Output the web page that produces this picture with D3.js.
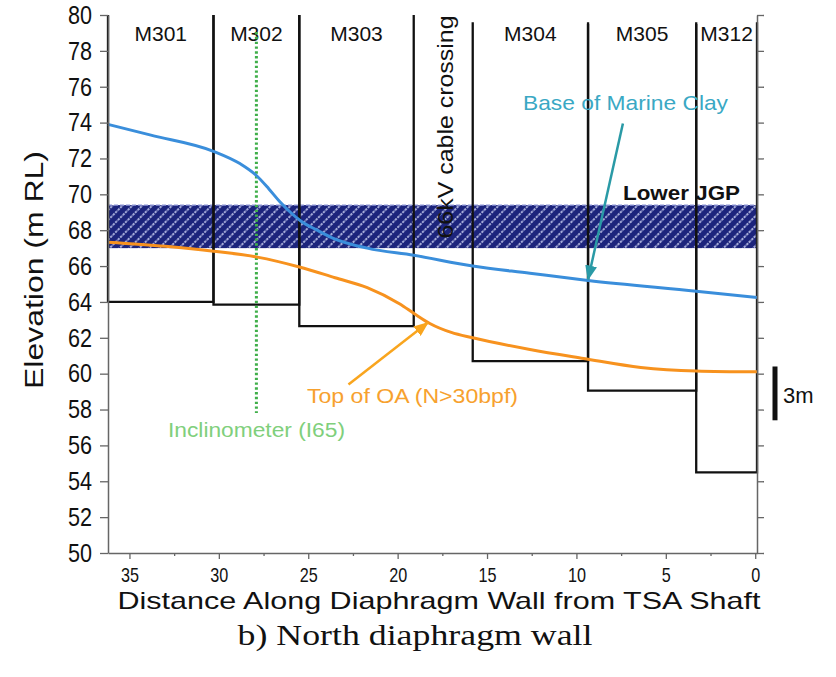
<!DOCTYPE html>
<html>
<head>
<meta charset="utf-8">
<script src="https://cdn.jsdelivr.net/npm/d3@7"></script>
<style>
  body { margin: 0; background: #fff; }
  text { font-family: "Liberation Sans", Arial, sans-serif; }
  text.serif { font-family: "Liberation Serif", "Times New Roman", serif; }
</style>
</head>
<body>
<script>
// axis ticks
var yTicks = [50, 52, 54, 56, 58, 60, 62, 64, 66, 68, 70, 72, 74, 76, 78, 80];
var xTicks = [35, 30, 25, 20, 15, 10, 5, 0];
var xMinor = [32.5, 27.5, 22.5, 17.5, 12.5, 7.5, 2.5];

// diaphragm wall panels (distance from shaft, m / elevation, m RL)
var panelNames = ["M301", "M302", "M303", "M304", "M305", "M312"];
var panelStart = [36.2, 30.3, 25.5, 15.8, 9.35, 3.3];
var panelEnd   = [30.3, 25.5, 19.1, 9.35, 3.3, -0.1];
var panelTop   = [80, 80, 80, 79.6, 79.5, 79.6];
var panelToe   = [64.0, 63.85, 62.65, 60.7, 59.05, 54.5];

// base of marine clay
var clayDist = [36.2, 33.8, 30.3, 28.8, 27.9, 27.2, 26.6, 26.0, 25.4, 24.5, 23.6, 21.7, 19.1, 15.8, 12.6, 9.35, 3.3, -0.1];
var clayElev = [73.9, 73.3, 72.4, 71.7, 71.05, 70.3, 69.6, 69.0, 68.5, 68.0, 67.55, 67.0, 66.6, 66.0, 65.6, 65.2, 64.6, 64.25];

// top of OA
var oaDist = [36.2, 33.0, 30.3, 27.85, 25.5, 23.5, 21.7, 19.9, 19.0, 18.2, 17.0, 15.8, 12.6, 9.6, 6.4, 3.3, -0.1];
var oaElev = [67.33, 67.1, 66.83, 66.5, 65.95, 65.35, 64.8, 63.9, 63.3, 62.8, 62.3, 62.0, 61.35, 60.85, 60.35, 60.15, 60.1];

// lower JGP layer and inclinometer
var jgpBottom = 67.0, jgpTop = 69.4;
var inclDist = 27.9, inclTop = 79.05, inclBottom = 57.8;

var width = 836, height = 677;

var svg = d3.select("body").append("svg")
    .attr("width", width)
    .attr("height", height);

var x = d3.scaleLinear().domain([36.2, -0.1]).range([108, 757]);
var y = d3.scaleLinear().domain([50, 80]).range([553, 15]);

var defs = svg.append("defs");
var pat = defs.append("pattern")
    .attr("id", "hatch")
    .attr("patternUnits", "userSpaceOnUse")
    .attr("width", 7).attr("height", 7)
    .attr("patternTransform", "rotate(45)");
pat.append("rect").attr("width", 7).attr("height", 7).attr("fill", "#1c247c");
pat.append("line")
    .attr("x1", 1).attr("y1", 0).attr("x2", 1).attr("y2", 7)
    .attr("stroke", "#dfe4ff").attr("stroke-width", 1.4)
    .attr("stroke-dasharray", "2.5,1");

function marker(id, color) {
  defs.append("marker")
      .attr("id", id)
      .attr("markerUnits", "userSpaceOnUse")
      .attr("markerWidth", 15).attr("markerHeight", 12)
      .attr("refX", 14).attr("refY", 6)
      .attr("orient", "auto")
    .append("path")
      .attr("d", "M0,0 L15,6 L0,12 Z")
      .attr("fill", color);
}
marker("tealHead", "#2a9aa6");
marker("orangeHead", "#f9a51e");

// JGP band
svg.append("rect")
    .attr("x", x(36.2)).attr("width", x(-0.1) - x(36.2))
    .attr("y", y(jgpTop)).attr("height", y(jgpBottom) - y(jgpTop))
    .attr("fill", "url(#hatch)");
svg.append("line")
    .attr("x1", x(36.2)).attr("x2", x(-0.1))
    .attr("y1", y(jgpTop)).attr("y2", y(jgpTop))
    .attr("stroke", "#8d95d6").attr("stroke-width", 1.2)
    .attr("stroke-dasharray", "4,2");

// panels
var panels = panelNames.map(function(n, i){
  return {name: n, start: panelStart[i], end: panelEnd[i], top: panelTop[i], toe: panelToe[i]};
});

svg.selectAll(".panel")
  .data(panels)
  .enter().append("path")
    .attr("class", "panel")
    .attr("fill", "none")
    .attr("stroke", "#111")
    .attr("stroke-width", 2.3)
    .attr("d", function(d){
      return "M" + x(d.start) + "," + y(d.top) +
             "L" + x(d.start) + "," + y(d.toe) +
             "L" + x(d.end) + "," + y(d.toe) +
             "L" + x(d.end) + "," + y(d.top);
    });

svg.selectAll(".pname")
  .data(panels)
  .enter().append("text")
    .attr("class", "pname")
    .attr("x", function(d){ return x((d.start + d.end) / 2); })
    .attr("y", 41)
    .attr("text-anchor", "middle")
    .attr("font-size", 21)
    .attr("fill", "#111")
    .text(function(d){ return d.name; });

// inclinometer
svg.append("line")
    .attr("x1", x(inclDist)).attr("x2", x(inclDist))
    .attr("y1", y(inclTop)).attr("y2", y(inclBottom))
    .attr("stroke", "#3fae49").attr("stroke-width", 3)
    .attr("stroke-dasharray", "2.4,2.4");

// soil lines
var line = d3.line()
    .x(function(d){ return x(d[0]); })
    .y(function(d){ return y(d[1]); })
    .curve(d3.curveMonotoneX);

svg.append("path")
    .datum(clayDist.map(function(d, i){ return [d, clayElev[i]]; }))
    .attr("fill", "none")
    .attr("stroke", "#3a8edb")
    .attr("stroke-width", 3)
    .attr("d", line);

svg.append("path")
    .datum(oaDist.map(function(d, i){ return [d, oaElev[i]]; }))
    .attr("fill", "none")
    .attr("stroke", "#f7921e")
    .attr("stroke-width", 3)
    .attr("d", line);

// axes
var gy = svg.append("g")
    .attr("transform", "translate(" + x(36.2) + ",0)")
    .call(d3.axisLeft(y).tickValues(yTicks).tickSize(8).tickSizeOuter(0).tickPadding(8));
gy.selectAll("text")
    .attr("font-size", 26)
    .attr("font-family", "Liberation Sans, Arial, sans-serif")
    .attr("fill", "#111")
    .attr("textLength", 24)
    .attr("lengthAdjust", "spacingAndGlyphs");

var gr = svg.append("g")
    .attr("transform", "translate(" + x(-0.1) + ",0)")
    .call(d3.axisRight(y).tickValues(yTicks).tickSize(7).tickSizeOuter(0).tickFormat(""));

var gx = svg.append("g")
    .attr("transform", "translate(0," + y(50) + ")")
    .call(d3.axisBottom(x).tickValues(xTicks).tickSize(6).tickSizeOuter(0).tickFormat(d3.format("d")));
gx.selectAll("text")
    .attr("y", 29).attr("dy", 0)
    .attr("font-size", 21)
    .attr("font-family", "Liberation Sans, Arial, sans-serif")
    .attr("fill", "#111")
    .attr("textLength", function(d){ return String(d).length * 9; })
    .attr("lengthAdjust", "spacingAndGlyphs");

var gm = svg.append("g")
    .attr("transform", "translate(0," + y(50) + ")")
    .call(d3.axisBottom(x).tickValues(xMinor).tickSize(3).tickFormat(""));
gm.select(".domain").remove();

[gy, gr, gx, gm].forEach(function(g){
  g.selectAll("line").attr("stroke", "#666").attr("stroke-width", 1.3);
  g.selectAll(".domain").attr("stroke", "#666").attr("stroke-width", 1.5);
});

// axis titles
svg.append("text")
    .attr("transform", "translate(43,270) rotate(-90)")
    .attr("text-anchor", "middle")
    .attr("font-size", 26)
    .attr("fill", "#111")
    .attr("textLength", 238)
    .attr("lengthAdjust", "spacingAndGlyphs")
    .text("Elevation (m RL)");

svg.append("text")
    .attr("x", 439).attr("y", 609)
    .attr("text-anchor", "middle")
    .attr("font-size", 24)
    .attr("fill", "#111")
    .attr("textLength", 643)
    .attr("lengthAdjust", "spacingAndGlyphs")
    .text("Distance Along Diaphragm Wall from TSA Shaft");

svg.append("text")
    .attr("class", "serif")
    .attr("x", 415).attr("y", 645)
    .attr("text-anchor", "middle")
    .attr("font-size", 29)
    .attr("fill", "#111")
    .attr("textLength", 355)
    .attr("lengthAdjust", "spacingAndGlyphs")
    .text("b) North diaphragm wall");

// annotations
svg.append("text")
    .attr("transform", "translate(453,127) rotate(-90)")
    .attr("text-anchor", "middle")
    .attr("font-size", 22)
    .attr("fill", "#111")
    .attr("textLength", 223)
    .attr("lengthAdjust", "spacingAndGlyphs")
    .text("66kV cable crossing");

svg.append("text")
    .attr("x", 523).attr("y", 110)
    .attr("font-size", 21)
    .attr("fill", "#3aa8c4")
    .attr("textLength", 205)
    .attr("lengthAdjust", "spacingAndGlyphs")
    .text("Base of Marine Clay");

svg.append("line")
    .attr("x1", x(7.4)).attr("y1", y(73.95))
    .attr("x2", x(9.35)).attr("y2", y(65.25))
    .attr("stroke", "#2a9aa6").attr("stroke-width", 2.5)
    .attr("marker-end", "url(#tealHead)");

svg.append("text")
    .attr("x", 623).attr("y", 200)
    .attr("font-size", 20)
    .attr("font-weight", "bold")
    .attr("fill", "#111")
    .attr("textLength", 117)
    .attr("lengthAdjust", "spacingAndGlyphs")
    .text("Lower JGP");

svg.append("text")
    .attr("x", 307).attr("y", 403)
    .attr("font-size", 21)
    .attr("fill", "#f7a12e")
    .attr("textLength", 211)
    .attr("lengthAdjust", "spacingAndGlyphs")
    .text("Top of OA (N>30bpf)");

svg.append("line")
    .attr("x1", x(22.75)).attr("y1", y(59.4))
    .attr("x2", x(18.3)).attr("y2", y(62.85))
    .attr("stroke", "#f9a51e").attr("stroke-width", 2.5)
    .attr("marker-end", "url(#orangeHead)");

svg.append("text")
    .attr("x", 168).attr("y", 437)
    .attr("font-size", 20)
    .attr("fill", "#80cf7c")
    .attr("textLength", 177)
    .attr("lengthAdjust", "spacingAndGlyphs")
    .text("Inclinometer (I65)");

// 3 m scale bar
svg.append("line")
    .attr("x1", 775).attr("x2", 775)
    .attr("y1", y(60.4)).attr("y2", y(57.4))
    .attr("stroke", "#111").attr("stroke-width", 5);
svg.append("text")
    .attr("x", 783).attr("y", 403)
    .attr("font-size", 22)
    .attr("fill", "#111")
    .text("3m");
</script>
</body>
</html>
